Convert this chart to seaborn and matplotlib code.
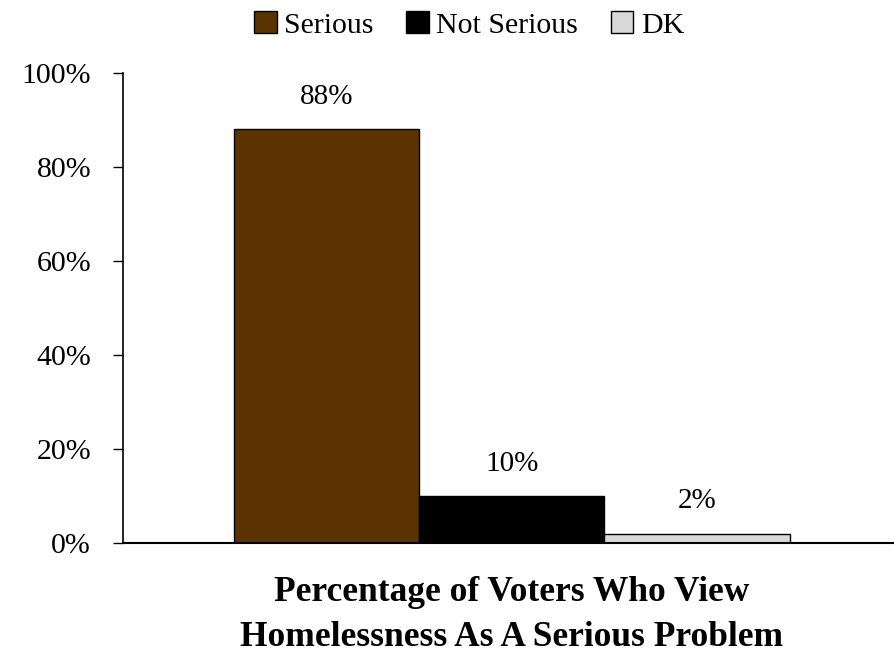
import matplotlib
matplotlib.use("Agg")
import matplotlib.pyplot as plt
import pandas as pd
import seaborn as sns
from matplotlib.ticker import PercentFormatter

# data
categories = ["Serious", "Not Serious", "DK"]
values = [88, 10, 2]
colors = ["#5B3300", "#000000", "#D9D9D9"]
group = "Percentage of Voters Who View\nHomelessness As A Serious Problem"

df = pd.DataFrame({"group": [group] * 3, "answer": categories, "pct": values})

sns.set_style("white")
plt.rcParams["font.family"] = ["Liberation Serif", "DejaVu Serif"]
plt.rcParams["text.color"] = "black"
plt.rcParams["xtick.color"] = "black"
plt.rcParams["ytick.color"] = "black"
plt.rcParams["axes.edgecolor"] = "black"

fig = plt.figure(figsize=(8.94, 6.56), dpi=100)
ax = fig.add_axes([0.1376, 0.1723, 0.8624, 0.7164])

sns.barplot(data=df, x="group", y="pct", hue="answer", hue_order=categories,
            palette=colors, width=0.72, edgecolor="black", linewidth=1,
            saturation=1, ax=ax)

for cont in ax.containers:
    ax.bar_label(cont, labels=[f"{v:.0f}%" for v in cont.datavalues],
                 padding=14, fontsize=21)

ax.set_xlim(-0.5045, 0.4955)
ax.set_ylim(0, 100)
ax.set_yticks([0, 20, 40, 60, 80, 100])
ax.yaxis.set_major_formatter(PercentFormatter(decimals=0))
ax.tick_params(axis="y", labelsize=21.5, left=True, length=7, width=1, pad=16)
ax.tick_params(axis="x", bottom=False, pad=20)
for lab in ax.get_xticklabels():
    lab.set_fontweight("bold")
    lab.set_fontsize(25.5)
    lab.set_linespacing(1.5)
ax.set_xlabel("")
ax.set_ylabel("")
sns.despine(ax=ax)
ax.spines["left"].set_linewidth(1.2)
ax.spines["bottom"].set_linewidth(1.5)

ax.legend(loc="center", bbox_to_anchor=(0.449, 1.102), ncol=3, frameon=False,
          fontsize=21.5, handlelength=0.75, handleheight=0.75, handletextpad=0.25,
          columnspacing=1.1)

fig.savefig("out.png", dpi=100)
